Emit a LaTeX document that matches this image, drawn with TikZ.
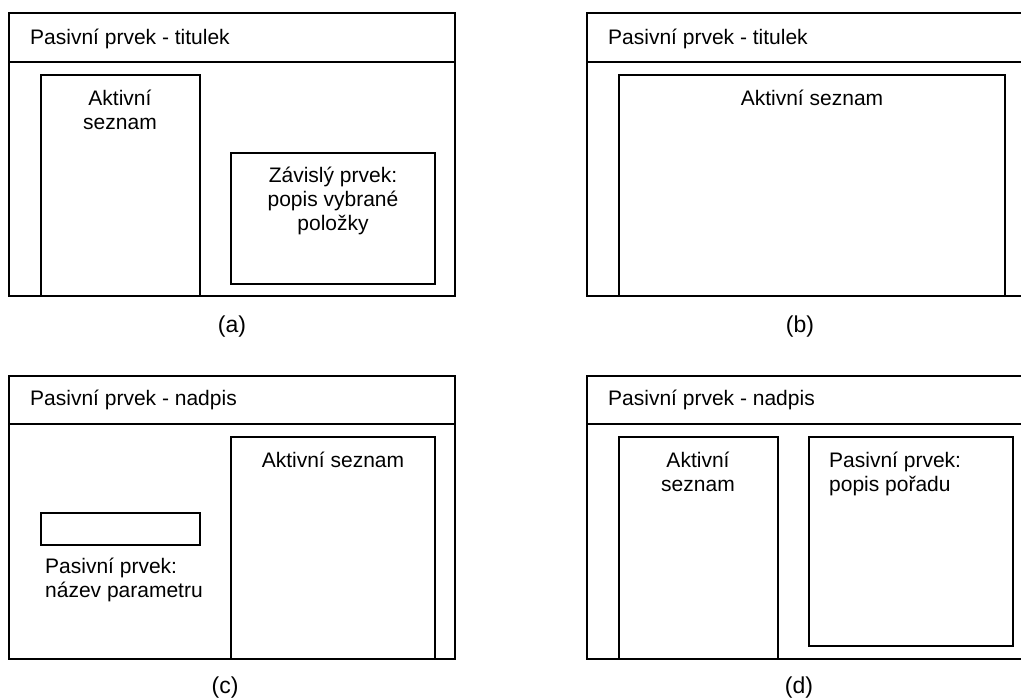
\documentclass[tikz,border=0pt]{standalone}
\usepackage{fontspec}
\setmainfont{Liberation Sans}
\begin{document}
\begin{tikzpicture}[x=1pt,y=-1pt,
  frame/.style={draw=black,line width=1.8pt},
  txt/.style={inner sep=0pt,font=\fontsize{21}{24}\selectfont},
  lbl/.style={inner sep=0pt,font=\fontsize{23}{26}\selectfont}]
\useasboundingbox (0,0) rectangle (1021,699);
\clip (0,0) rectangle (1021,699);
% ---------- (a)
\draw[frame] (9,13) rectangle (455,296);
\draw[frame] (9,62) -- (455,62);
\node[txt,anchor=base west] (ta) at (30,44) {Pasivní prvek - titulek};
\draw[frame] (41,75) rectangle (200,296);
\node[txt,anchor=base] (aa1) at (120,105) {Aktivní};
\node[txt,anchor=base] (aa2) at (120,129) {seznam};
\draw[frame] (231,153) rectangle (435,284);
\node[txt,anchor=base] (za1) at (333,182) {Závislý prvek:};
\node[txt,anchor=base] (za2) at (333,206) {popis vybrané};
\node[txt,anchor=base] (za3) at (333,230) {položky};
\node[lbl,anchor=base] (la) at (232,332) {(a)};
% ---------- (b)
\draw[frame] (587,13) rectangle (1040,296);
\draw[frame] (587,62) -- (1040,62);
\node[txt,anchor=base west] (tb) at (608,44) {Pasivní prvek - titulek};
\draw[frame] (619,75) rectangle (1005,296);
\node[txt,anchor=base] (ab) at (812,105) {Aktivní seznam};
\node[lbl,anchor=base] (lb) at (800,332) {(b)};
% ---------- (c)
\draw[frame] (9,376) rectangle (455,659);
\draw[frame] (9,424) -- (455,424);
\node[txt,anchor=base west] (tc) at (30,405) {Pasivní prvek - nadpis};
\draw[frame] (231,437) rectangle (435,659);
\node[txt,anchor=base] (ac) at (333,467) {Aktivní seznam};
\draw[frame] (41,513) rectangle (200,545);
\node[txt,anchor=base west] (pc1) at (45,573) {Pasivní prvek:};
\node[txt,anchor=base west] (pc2) at (45,597) {název parametru};
\node[lbl,anchor=base] (lc) at (225,693) {(c)};
% ---------- (d)
\draw[frame] (587,376) rectangle (1040,659);
\draw[frame] (587,424) -- (1040,424);
\node[txt,anchor=base west] (td) at (608,405) {Pasivní prvek - nadpis};
\draw[frame] (619,437) rectangle (778,659);
\node[txt,anchor=base] (ad1) at (698,467) {Aktivní};
\node[txt,anchor=base] (ad2) at (698,491) {seznam};
\draw[frame] (809,437) rectangle (1013,646);
\node[txt,anchor=base west] (pd1) at (829,467) {Pasivní prvek:};
\node[txt,anchor=base west] (pd2) at (829,491) {popis pořadu};
\node[lbl,anchor=base] (ld) at (799,693) {(d)};
\end{tikzpicture}
\end{document}
